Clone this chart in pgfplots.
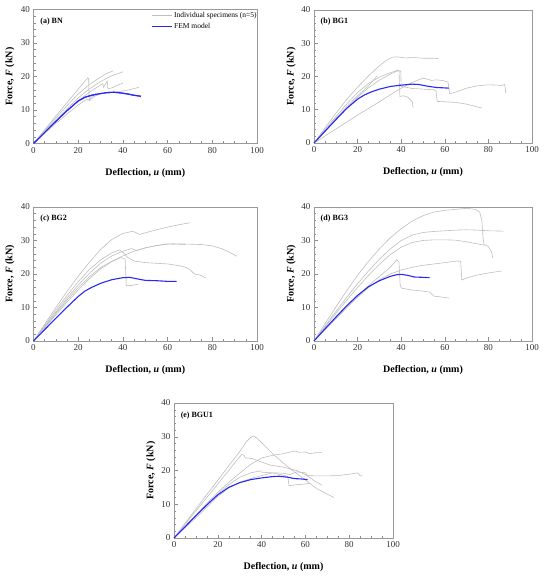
\documentclass[border=0pt]{standalone}
\usepackage{fontspec}
\setmainfont{Liberation Serif}
\usepackage{pgfplots}
\pgfplotsset{compat=1.18}
\definecolor{fem}{RGB}{40,40,245}
\definecolor{spec}{RGB}{190,190,190}
\pgfplotsset{
  panel/.style={
    scale only axis,
    xmin=0, xmax=100, ymin=0, ymax=40,
    xtick={0,20,...,100}, ytick={0,10,...,40},
    minor x tick num=3, minor y tick num=4,
    tick align=inside, xtick pos=bottom, ytick pos=left,
    major tick length=3.5pt, minor tick length=2pt,
    tick style={black!45, line width=0.5pt},
    axis line style={black!40, line width=0.6pt},
    ticklabel style={font=\fontsize{9}{9}\selectfont, text=black!80},
    /pgf/number format/assume math mode=true,
    xlabel={\textbf{Deflection, \textit{u} (mm)}},
    ylabel={\textbf{Force, \textit{F} (kN)}},
    label style={font=\fontsize{10}{10}\selectfont},
    xlabel style={at={(axis description cs:0.5,-0.217)}, anchor=center},
    ylabel style={at={(axis description cs:-0.105,0.5)}, anchor=center},
    clip=false,
  },
  sp/.style={spec, line width=0.6pt},
  fm/.style={fem, line width=1.1pt},
}
\newcommand{\plabel}[1]{\node[anchor=west, font=\bfseries\fontsize{8}{8}\selectfont, inner sep=0pt] at (rel axis cs:0.03,0.91) {#1};}
\begin{document}
\begin{tikzpicture}[x=1pt,y=1pt]
\path[use as bounding box] (0,0) rectangle (550,576);
% (a)
\begin{axis}[panel, at={(33.5pt,432.5pt)}, anchor=south west, width=223.5pt, height=134pt,
  legend style={at={(rel axis cs:0.525,0.995)}, anchor=north west, draw=none, fill=none,
    font=\fontsize{7.5}{7.5}\selectfont, inner sep=0pt, row sep=0pt, cells={anchor=west}},
  legend image code/.code={\draw[#1] (0pt,0pt) -- (20pt,0pt);}]
\addplot[sp] coordinates {(0,0)(5,4.1)(10,8.2)(15,12.2)(20,16.2)(24.3,19.6)(24.7,19.4)(24.9,13)(26,14)(28,15)};
\addlegendentry{Individual specimens (n=5)}
\addplot[fm] coordinates {(0,0)(5,3.3)(10,6.6)(15,9.8)(20,12.7)(23,13.8)(26,14.4)(30,14.9)(33,15.2)(36,15.3)(39,15.1)(42,14.8)(45,14.4)(48,14.1)};
\addlegendentry{FEM model}
\addplot[sp, forget plot] coordinates {(0,0)(5,3.8)(10,7.6)(15,11.3)(20,14.8)(25,17.6)(30,19.8)(33,21)(35.7,21.7)};
\addplot[sp, forget plot] coordinates {(0,0)(5,3.5)(10,7)(15,10.4)(20,13.6)(25,16.3)(30,18.5)(35,20.2)(40,21.4)};
\addplot[sp, forget plot] coordinates {(0,0)(5,3.3)(10,6.6)(15,9.8)(20,12.8)(25,15.3)(28,16.6)(31,17.9)(31.3,16.8)(33,18.5)(33.3,16.3)(35,16.6)(37,17.2)(40,18)};
\addplot[sp, forget plot] coordinates {(0,0)(5,3)(10,6)(15,8.8)(20,11.5)(24,13.3)(25,12.8)(27,14)(30,14.8)(35,15.2)(38,15.5)(42,15.9)(45,16.4)(47.3,16.8)};
\addplot[fm, forget plot] coordinates {(0,0)(5,3.3)(10,6.6)(15,9.8)(20,12.7)(23,13.8)(26,14.4)(30,14.9)(33,15.2)(36,15.3)(39,15.1)(42,14.8)(45,14.4)(48,14.1)};
\plabel{(a) BN}
\end{axis}
% (b)
\begin{axis}[panel, at={(314pt,433pt)}, anchor=south west, width=218pt, height=133pt]
\addplot[sp] coordinates {(0,0)(5,4.5)(10,8.9)(15,13.1)(20,16.8)(25,20.2)(30,23.2)(33,24.8)(36,25.8)(38,25.9)(42,25.6)(46,25.7)(50,25.5)(54,25.5)(57,25.4)};
\addplot[sp] coordinates {(0,0)(5,4)(10,7.9)(15,11.7)(20,15.2)(25,17.9)(30,19.8)(34,20.9)(38,21.8)(39,21.9)(39.4,14)(41,14.2)(43,13.8)(45,12.5)(45.5,10.5)};
\addplot[sp] coordinates {(0,0)(5,3.8)(10,7.4)(15,10.9)(20,14.2)(25,17.2)(29,20.2)};
\addplot[sp] coordinates {(0,0)(5,3.5)(10,7)(15,10.5)(20,13.8)(25,16.6)(30,18.9)(35,20.7)(38,21.6)(39.8,21.7)(40,17)(42,16.8)(45,16.4)(50,16.2)(55,16)(56,15.6)(56.5,12.5)(60,12.4)(65,12.2)(70,11.7)(74,11)(77,10.5)};
\addplot[sp] coordinates {(0,0)(5,2.1)(10,4.2)(15,6.3)(20,8.4)(25,10.4)(30,12.4)(35,14.5)(40,16.5)(45,18.2)(50,19.5)(52,19.2)(54,18.8)(56,19)(59,18.8)(61.5,18.3)(62.2,14.8)(65,15.3)(70,16.5)(75,17.2)(80,17.5)(84,17.4)(86,17.3)(87.5,17.6)(88,15)};
\addplot[fm] coordinates {(0,0)(5,3.5)(10,7)(15,10.4)(20,13.2)(23,14.4)(26,15.3)(30,16.2)(35,17)(40,17.4)(45,17.7)(48,17.6)(52,17.1)(56,16.7)(62,16.5)};
\plabel{(b) BG1}
\end{axis}
% (c)
\begin{axis}[panel, at={(33.5pt,235pt)}, anchor=south west, width=223.5pt, height=134pt]
\addplot[sp] coordinates {(0,0)(5,5)(10,10)(15,14.8)(20,19.3)(25,23.5)(30,27.3)(35,30.3)(40,32.1)(44,32.7)(45,32.6)(47.5,31.8)(50,32.3)(55,33.2)(60,34)(65,34.7)(70,35.3)};
\addplot[sp] coordinates {(0,0)(5,3.9)(10,7.8)(15,11.6)(20,15.2)(25,18.6)(30,21.5)(35,23.7)(40,25.4)(45,26.8)(50,27.8)(55,28.5)(60,28.9)(65,29)(70,28.9)(75,28.8)(80,28.4)(84,27.6)(88,26.4)(91,25.3)};
\addplot[sp] coordinates {(0,0)(5,4.3)(10,8.6)(15,12.8)(20,16.7)(25,20.2)(30,23.2)(35,25.4)(40,26.8)(44,27.6)(46,27)(50,27.8)(55,28.5)(60,29)(65,28.9)(68,28.8)};
\addplot[sp] coordinates {(0,0)(5,4.6)(10,9.2)(15,13.6)(20,17.7)(25,21.3)(30,24.2)(35,26.3)(38.5,27.2)(40,26.5)(42,25)(45,23.9)(50,23.4)(55,23.2)(60,23)(65,22.5)(68,22)(70,21.3)(72,20)(75,19.6)(77,18.8)};
\addplot[sp] coordinates {(0,0)(5,4.1)(10,8.2)(15,12.2)(20,15.9)(25,19.2)(30,21.9)(35,23.8)(39,24.9)(41,24.5)(41.5,16.5)(44,16.6)(47,17)};
\addplot[fm] coordinates {(0,0)(5,3.4)(10,6.8)(15,10.1)(20,13.3)(23,14.9)(26,16)(30,17.2)(35,18.3)(40,18.9)(43,19)(46,18.6)(50,18.1)(55,18)(60,17.8)(64,17.8)};
\plabel{(c) BG2}
\end{axis}
% (d)
\begin{axis}[panel, at={(314pt,235pt)}, anchor=south west, width=218pt, height=134pt]
\addplot[sp] coordinates {(0,0)(5,5.1)(10,10.1)(15,15)(20,19.6)(25,23.8)(30,27.5)(35,30.8)(40,33.5)(45,35.8)(50,37.4)(55,38.5)(60,39)(65,39.3)(70,39.6)(74,39.3)(76,38.5)(77,36)(77.5,31)(78,28.8)(80,28.2)(81.5,26.5)(82,24.8)};
\addplot[sp] coordinates {(0,0)(5,4.4)(10,8.8)(15,13)(20,17.1)(25,20.9)(30,24.4)(35,27.5)(40,30)(45,31.6)(50,32.4)(55,32.7)(60,32.9)(65,33.1)(70,33.2)(75,33.1)(80,32.9)(87,32.8)};
\addplot[sp] coordinates {(0,0)(5,4.1)(10,8.2)(15,12.2)(20,16)(25,19.6)(30,22.9)(35,25.8)(40,28)(45,29.4)(50,30)(55,30.2)(60,30.2)(65,30.1)(70,29.6)(75,29)(78,28.6)};
\addplot[sp] coordinates {(0,0)(5,3.4)(10,6.8)(15,10.2)(20,13.5)(25,16.5)(30,19.3)(35,22)(38,24.3)(39,23.5)(39.5,17)(40,15.8)(45,15.2)(50,14.9)(53,14.6)(55,13.4)(60,13)(62,12.8)};
\addplot[sp] coordinates {(0,0)(5,3.3)(10,6.6)(15,9.9)(20,13.1)(25,15.9)(30,18.3)(35,20)(40,21.2)(45,22)(50,22.6)(55,23)(60,23.4)(66,23.9)(67.3,23.7)(67.8,18.2)(70,18.8)(75,19.7)(80,20.3)(86,20.9)};
\addplot[fm] coordinates {(0,0)(5,3.6)(10,7.1)(15,10.5)(20,13.6)(25,16.2)(30,18)(35,19.3)(38,19.8)(40,19.9)(43,19.6)(46,19.1)(50,19)(53,18.9)};
\plabel{(d) BG3}
\end{axis}
% (e)
\begin{axis}[panel, at={(174pt,38pt)}, anchor=south west, width=219pt, height=135pt]
\addplot[sp] coordinates {(0,0)(5,4.3)(10,8.6)(15,12.9)(20,17.1)(25,21.4)(30,25.6)(33,28.5)(35,29.8)(36.5,30.2)(38,29.5)(41,27.6)(45,25)(51,21.6)(55,19.6)(59,17.7)(65,14.7)(70,13)(73,12)};
\addplot[sp] coordinates {(0,0)(5,4)(10,8)(15,12)(20,16)(25,20)(28,22.5)(31,24.8)(32,24.5)(32.5,23.8)(36,23.5)(40,22.5)(44,21.6)(50,21)(56,20)(60,18.8)(64,17)(67.5,15.7)};
\addplot[sp] coordinates {(0,0)(5,3.4)(10,6.8)(15,10.2)(20,13.5)(25,16.5)(30,19.2)(35,21.8)(40,23.7)(45,24.5)(50,25)(55,25.8)(57,25.4)(60,25.5)(62,25)(65,25.3)(67.5,25.3)};
\addplot[sp] coordinates {(0,0)(5,3.2)(10,6.5)(15,9.8)(20,13)(25,15.8)(30,18)(35,19.3)(39.5,19.9)(40,19.5)(45,19.3)(50,18.6)(52,18.2)(52.5,15.5)(56,15.8)(60,16)(62,16.2)};
\addplot[sp] coordinates {(0,0)(5,3)(10,6)(15,9.1)(20,12.3)(25,14.8)(30,16.5)(35,17.6)(40,18.5)(45,19.3)(50,19.2)(53,18.8)(56,19.6)(60,19.3)(61,18.5)(65,18.4)(70,18.4)(75,18.5)(80,18.9)(84,19.3)(85,18.4)(86,18.5)};
\addplot[fm] coordinates {(0,0)(5,3.3)(10,6.6)(15,9.8)(20,12.8)(25,15)(30,16.4)(35,17.3)(40,17.8)(45,18.2)(48,18.3)(52,18)(55,17.6)(58,17.5)(61,17.3)};
\plabel{(e) BGU1}
\end{axis}
\end{tikzpicture}
\end{document}
